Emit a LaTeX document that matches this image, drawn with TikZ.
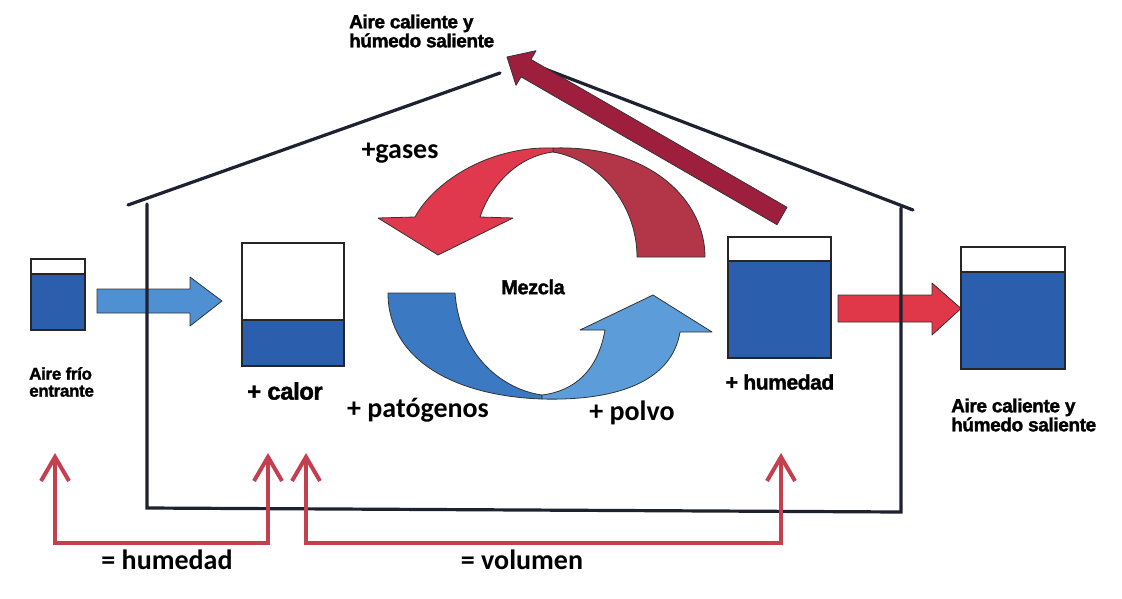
\documentclass[tikz,border=0pt]{standalone}
\usepackage{fontspec}
\setmainfont{Liberation Sans}
\newfontfamily\calib{Carlito}
\newfontfamily\heavy{Liberation Sans}[FakeBold=1.6, LetterSpace=-2]
\usetikzlibrary{arrows.meta}
\definecolor{housec}{HTML}{1E2130}
\definecolor{tankblue}{HTML}{2B5EAD}
\definecolor{lblue}{HTML}{4F90D2}
\definecolor{bluedark}{HTML}{3B7AC3}
\definecolor{bluelight}{HTML}{5C9CD9}
\definecolor{redlight}{HTML}{E0394D}
\definecolor{reddark}{HTML}{B23548}
\definecolor{bigred}{HTML}{9E1F3D}
\definecolor{redarrow}{HTML}{E03848}
\definecolor{meascol}{HTML}{C4404F}
\begin{document}
\begin{tikzpicture}[x=1pt,y=-1pt,
  house/.style={draw=housec, line width=3.2pt, line cap=round, line join=miter},
  blk/.style={draw=black!80, line width=0.8pt, line join=round},
  tankline/.style={draw=black!85, line width=2pt},
  measure/.style={draw=meascol, line width=4pt,
    {Straight Barb[length=24pt,width=28pt]}-{Straight Barb[length=24pt,width=28pt]}},
  lbl/.style={inner sep=0pt, text=black},
  arialb/.style={font=\heavy\bfseries\fontsize{#1}{#1}\selectfont},
  calibb/.style={font=\calib\bfseries\fontsize{#1}{#1}\selectfont}
]
\useasboundingbox (0,0) rectangle (1122,598);
\fill[white] (0,0) rectangle (1122,598);

% horizontal block arrows
\path[blk, fill=lblue] (97,289) -- (190,289) -- (190,277) -- (222,301) -- (190,326) -- (190,313) -- (97,313) -- cycle;
\path[blk, fill=redarrow] (838,295) -- (932,295) -- (932,283) -- (961,308.5) -- (932,335) -- (932,322) -- (838,322) -- cycle;

% house
\draw[house] (128,205) -- (500,73);
\draw[house] (545,69) -- (913,210);
\draw[house] (147,204) -- (147,508) -- (901,512) -- (901,208);

% big exhaust arrow
\path[blk, fill=bigred] (787,207.3) -- (531,59.5) -- (536,50.7) -- (507,57) -- (516,85.3) -- (521,76.8) -- (777,224.7) -- cycle;

% upper circular arrow (red)
\path[blk, fill=reddark] (553,148) .. controls (650,145) and (705,200) .. (705,257)
  -- (637,257) .. controls (637,205) and (600,160) .. (553,152) -- cycle;
\path[blk, fill=redlight] (553,148) .. controls (485,146) and (432,185) .. (415,217)
  -- (378,218) -- (438,255) -- (513,218) -- (480,217)
  .. controls (492,182) and (520,156) .. (553,152) -- cycle;

% lower circular arrow (blue)
\path[blk, fill=bluedark] (388,293) -- (455,293) .. controls (460,358) and (505,390) .. (542,395)
  -- (542,399) .. controls (455,396) and (388,360) .. (388,293) -- cycle;
\path[blk, fill=bluelight] (542,399) .. controls (620,401) and (672,380) .. (680,332)
  -- (712,332) -- (653,295) -- (580,330) -- (605,330)
  .. controls (598,370) and (575,391) .. (542,395) -- cycle;

% tanks
\fill[tankblue] (31,274) rectangle (85,330);
\draw[tankline] (31,259) rectangle (85,330) (31,274) -- (85,274);
\fill[tankblue] (242,320) rectangle (344,366);
\draw[tankline] (242,243) rectangle (344,366) (242,320) -- (344,320);
\fill[tankblue] (728,261) rectangle (831,358);
\draw[tankline] (728,237) rectangle (831,358) (728,261) -- (831,261);
\fill[tankblue] (961,272) rectangle (1065,369);
\draw[tankline] (961,247) rectangle (1065,369) (961,272) -- (1065,272);

% bottom comparison arrows
\coordinate (m1) at (55,453);
\coordinate (m2) at (268,453);
\coordinate (m3) at (306,453);
\coordinate (m4) at (781,453);
\draw[measure] (m1) -- (55,543) -- (268,543) -- (m2);
\draw[measure] (m3) -- (306,543) -- (781,543) -- (m4);

% labels
\node[lbl, arialb=19, align=left, anchor=west] (top) at (349,31)
  {\fontsize{19}{25}\selectfont Aire caliente y\\húmedo saliente};
\node[lbl, calibb=28] (gases) at (400,153) {+gases};
\node[lbl, arialb=20] (mezcla) at (533,287) {Mezcla};
\node[lbl, arialb=17, align=left, anchor=west] (frio) at (29,382)
  {\fontsize{17}{21}\selectfont Aire frío\\entrante};
\node[lbl, arialb=24] (calor) at (285,391) {+ calor};
\node[lbl, calibb=28] (pato) at (418,410) {+ patógenos};
\node[lbl, calibb=28] (polvo) at (632,413) {+ polvo};
\node[lbl, arialb=21] (hum) at (780,382) {+ humedad};
\node[lbl, arialb=19, align=left, anchor=west] (sal) at (951,415)
  {\fontsize{19}{25}\selectfont Aire caliente y\\húmedo saliente};
\node[lbl, calibb=28] (eqh) at (167,560) {= humedad};
\node[lbl, calibb=28] (eqv) at (522,560) {= volumen};
\end{tikzpicture}
\end{document}
